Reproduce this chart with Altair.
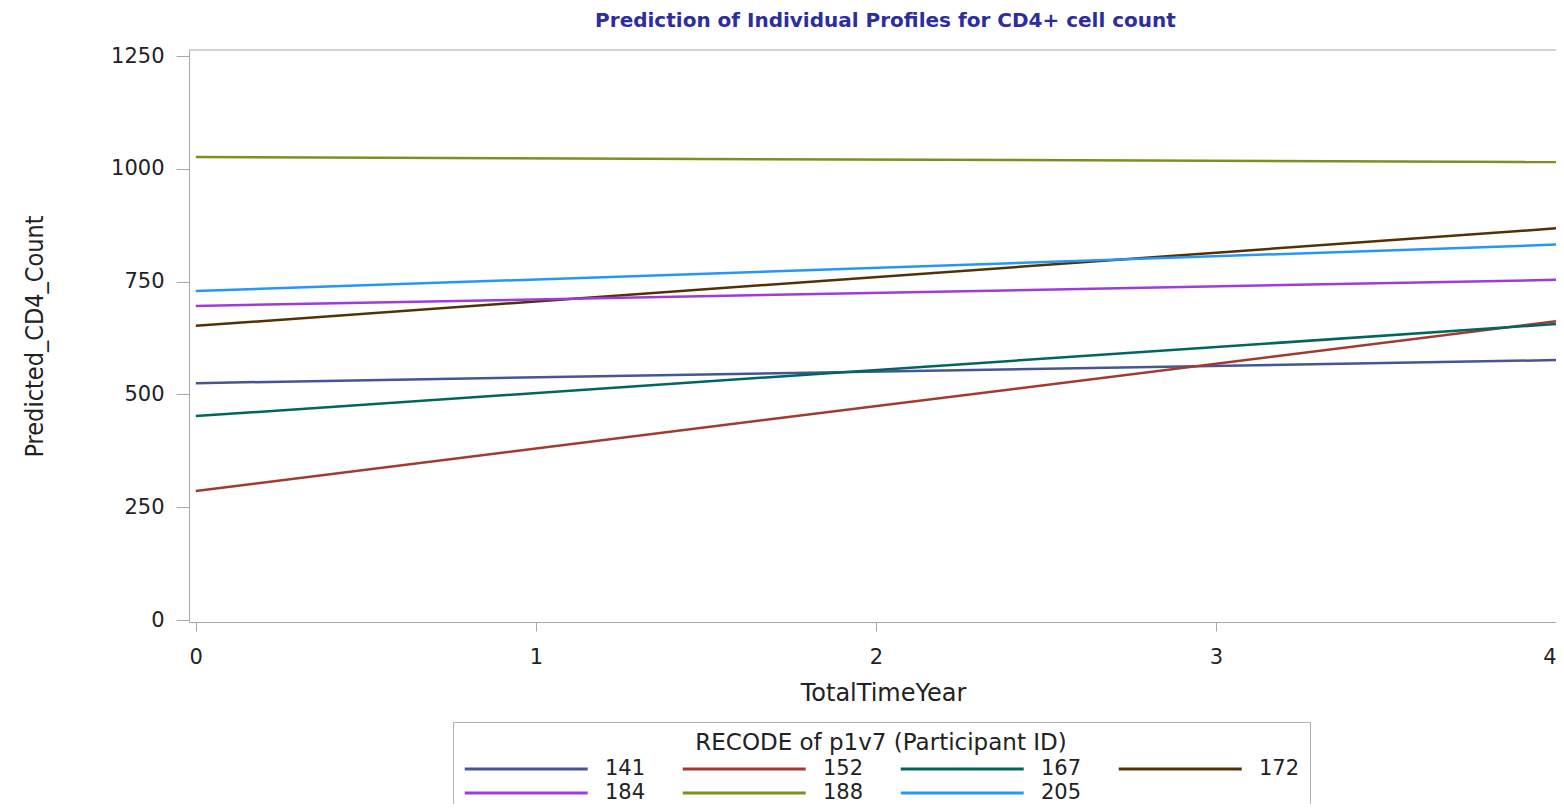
import altair as alt
import pandas as pd

participant_ids = ["141", "152", "167", "172", "184", "188", "205"]
line_colors = ["#445694", "#A23A2E", "#01665E", "#543005", "#9D3CDB", "#7F8E1F", "#2597FA"]
time_start = 0
time_end = 4
cd4_at_start = [525, 286, 452, 652, 696, 1026, 729]
cd4_at_end = [576, 662, 656, 868, 754, 1015, 832]
x_ticks = [0, 1, 2, 3, 4]
y_ticks = [0, 250, 500, 750, 1000, 1250]

rows = []
for pid, a, b in zip(participant_ids, cd4_at_start, cd4_at_end):
    rows.append({"id": pid, "TotalTimeYear": time_start, "Predicted_CD4_Count": a})
    rows.append({"id": pid, "TotalTimeYear": time_end, "Predicted_CD4_Count": b})
df = pd.DataFrame(rows)

W, H = 1367, 572
AXIS_GRAY = "#a8a8a8"
TEXT = "#222222"
NARROW = "'Liberation Sans Narrow', 'DejaVu Sans Condensed', 'Roboto Condensed', Roboto, sans-serif"

lines = alt.Chart(df).mark_line(strokeWidth=2.5).encode(
    x=alt.X(
        "TotalTimeYear:Q",
        scale=alt.Scale(domain=[-0.02, 4.0], nice=False, zero=False),
        axis=alt.Axis(
            values=x_ticks, format="d", title="TotalTimeYear", grid=False,
            domainColor=AXIS_GRAY, tickColor=AXIS_GRAY, tickSize=9,
            labelFont="DejaVu Sans", labelFontSize=21, labelColor=TEXT, labelPadding=15,
            titleFont="DejaVu Sans", titleFontSize=24, titleFontWeight="normal", titleColor=TEXT,
            titleX=694, titleY=59, titleBaseline="top",
        ),
    ),
    y=alt.Y(
        "Predicted_CD4_Count:Q",
        scale=alt.Scale(domain=[-4.4, 1263.3], nice=False, zero=False),
        axis=alt.Axis(
            values=y_ticks, format="d", title="Predicted_CD4_Count", grid=False,
            domainColor=AXIS_GRAY, tickColor=AXIS_GRAY, tickSize=13,
            labelFont="DejaVu Sans", labelFontSize=21, labelColor=TEXT, labelPadding=12,
            titleFont=NARROW, titleFontSize=25, titleFontWeight="normal",
            titleColor=TEXT, titleX=-142, titleY=286, titleBaseline="bottom", titleAngle=270,
        ),
    ),
    color=alt.Color(
        "id:N",
        scale=alt.Scale(domain=participant_ids, range=line_colors),
        legend=alt.Legend(
            title="RECODE of p1v7 (Participant ID)", orient="none", legendX=264, legendY=672,
            columns=4, direction="horizontal", symbolType="M-1,0H11", symbolSize=420,
            symbolStrokeWidth=3, labelOffset=118, columnPadding=30, rowPadding=2, padding=10,
            strokeColor="#b0b0b0", titleAnchor="middle", titleFont="DejaVu Sans",
            titleFontSize=23, titleFontWeight="normal", titleColor=TEXT, titlePadding=2,
            titleLimit=2000, labelFont="DejaVu Sans", labelFontSize=21, labelColor=TEXT,
            labelLimit=500,
        ),
    ),
)

top_rule = alt.Chart(pd.DataFrame({"k": [0]})).mark_rule(color=AXIS_GRAY, strokeWidth=1).encode(
    x=alt.value(0), x2=alt.value(W), y=alt.value(0)
)

chart = alt.layer(lines, top_rule).properties(
    width=W, height=H,
    autosize=alt.AutoSizeParams(type="none"),
    padding={"left": 181, "top": 42, "right": 0, "bottom": 182},
    title=alt.TitleParams(
        "Prediction of Individual Profiles for CD4+ cell count",
        font="DejaVu Sans", fontSize=20, fontWeight="bold", color="#2d2d9f",
        anchor="middle", dx=13, offset=14,
    ),
).configure_view(stroke=None)

chart.save("out.html", embed_options={"renderer": "svg", "actions": False})
